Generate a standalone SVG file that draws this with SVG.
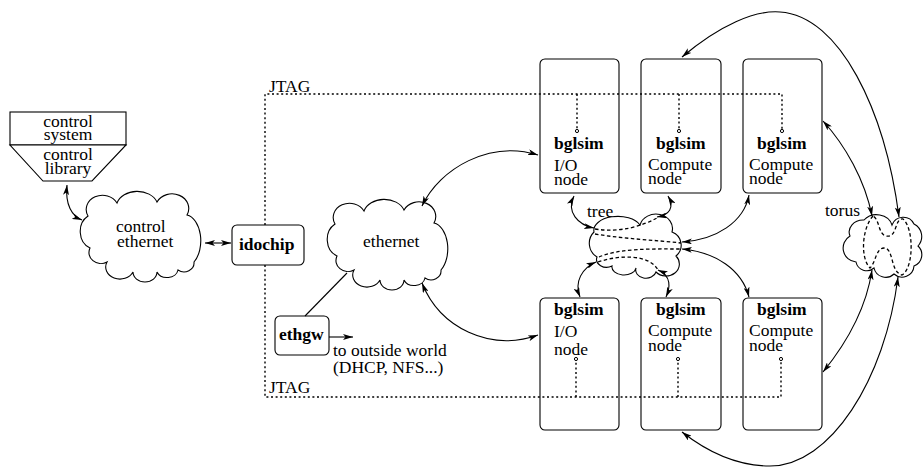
<svg xmlns="http://www.w3.org/2000/svg" width="923" height="474" viewBox="0 0 923 474">
  <style>
    .shape { fill: #fff; stroke: #000; stroke-width: 1.1; }
    .box { fill: none; stroke: #000; stroke-width: 1.1; }
    .line { fill: none; stroke: #000; stroke-width: 1.1; }
    .arrow2 { fill: none; stroke: #000; stroke-width: 1.1; marker-start: url(#ah); marker-end: url(#ah); }
    .arrow1 { fill: none; stroke: #000; stroke-width: 1.1; marker-end: url(#ah); }
    .dot { fill: none; stroke: #000; stroke-width: 1.4; stroke-dasharray: 2 2.6; }
    .inner { fill: none; stroke: #000; stroke-width: 1.3; stroke-dasharray: 3.5 2.5; }
    .pin { fill: #fff; stroke: #000; stroke-width: 1; }
    text { font-family: "Liberation Serif", "Times New Roman", serif; font-size: 17.5px; fill: #000; }
    .b { font-weight: bold; }
    .m { text-anchor: middle; }
  </style>
  <defs>
    <marker id="ah" viewBox="0 0 10 6" refX="10" refY="3" markerWidth="10" markerHeight="6" markerUnits="userSpaceOnUse" orient="auto-start-reverse">
      <path d="M0,0 L10,3 L0,6 L2.5,3 z" fill="#000"/>
    </marker>
    <path id="cloud" d="M88,216 A16,14 0 0 1 117,203 A21,16 0 0 1 157,202 A16,14 0 0 1 187,215 A16,26 0 0 1 194,262 A10,9 0 0 1 178,270 A11,9 0 0 1 157,272 A12,10 0 0 1 133,272 A13,11 0 0 1 107,262 A12,11 0 0 1 90,248 A16,18 0 0 1 88,216 Z"/>
  </defs>

  <rect width="923" height="474" fill="#fff"/>

  <!-- JTAG scan chain and per-node taps -->
  <g id="jtag">
    <path class="dot" d="M265,225 V94 H782 V131"/>
    <path class="dot" d="M577,94 V131 M679,94 V131"/>
    <path class="dot" d="M265,265 V397 H781 V359"/>
    <path class="dot" d="M576,397 V359 M678,397 V359"/>
    <circle class="pin" cx="577" cy="131" r="1.6"/>
    <circle class="pin" cx="679" cy="131" r="1.6"/>
    <circle class="pin" cx="782" cy="131" r="1.6"/>
    <circle class="pin" cx="576" cy="359" r="1.6"/>
    <circle class="pin" cx="678" cy="359" r="1.6"/>
    <circle class="pin" cx="781" cy="359" r="1.6"/>
    <text x="269" y="92">JTAG</text>
    <text x="269" y="393">JTAG</text>
  </g>

  <g id="control-system">
    <rect class="shape" x="10" y="112" width="116" height="33"/>
    <path class="shape" d="M10,145 H126 L92,181 H43 Z"/>
    <text class="m" x="68" y="127">control</text>
    <text class="m" x="68" y="140">system</text>
    <text class="m" x="68" y="160">control</text>
    <text class="m" x="68" y="174">library</text>
  </g>

  <g id="control-ethernet">
    <use href="#cloud" class="shape"/>
    <text x="116" y="232">control</text>
    <text x="117" y="247">ethernet</text>
  </g>

  <g id="idochip">
    <rect class="shape" x="232" y="225" width="72" height="40" rx="5"/>
    <text class="b" x="239" y="250">idochip</text>
  </g>

  <g id="ethernet">
    <use href="#cloud" class="shape" transform="translate(247,8)"/>
    <text x="363" y="247">ethernet</text>
  </g>

  <g id="ethgw">
    <rect class="shape" x="275" y="316" width="54" height="39" rx="5"/>
    <text class="b" x="279" y="340">ethgw</text>
    <text x="333" y="356">to outside world</text>
    <text x="333" y="373">(DHCP, NFS...)</text>
  </g>

  <g id="io-node-top">
    <rect class="box" x="540" y="59" width="79" height="134" rx="5"/>
    <text class="b" x="554" y="149">bglsim</text>
    <text x="554" y="171">I/O</text>
    <text x="554" y="185">node</text>
  </g>
  <g id="compute-node-top-1">
    <rect class="box" x="641" y="59" width="80" height="134" rx="5"/>
    <text class="b" x="656" y="149">bglsim</text>
    <text x="648" y="170">Compute</text>
    <text x="648" y="184">node</text>
  </g>
  <g id="compute-node-top-2">
    <rect class="box" x="743" y="59" width="79" height="134" rx="5"/>
    <text class="b" x="757" y="149">bglsim</text>
    <text x="749" y="170">Compute</text>
    <text x="749" y="184">node</text>
  </g>

  <g id="io-node-bottom">
    <rect class="box" x="540" y="298" width="79" height="132" rx="5"/>
    <text class="b" x="554" y="315">bglsim</text>
    <text x="554" y="337">I/O</text>
    <text x="554" y="355">node</text>
  </g>
  <g id="compute-node-bottom-1">
    <rect class="box" x="641" y="298" width="80" height="132" rx="5"/>
    <text class="b" x="656" y="315">bglsim</text>
    <text x="648" y="336">Compute</text>
    <text x="648" y="351">node</text>
  </g>
  <g id="compute-node-bottom-2">
    <rect class="box" x="743" y="298" width="79" height="132" rx="5"/>
    <text class="b" x="757" y="315">bglsim</text>
    <text x="749" y="336">Compute</text>
    <text x="749" y="351">node</text>
  </g>

  <g id="tree">
    <path class="shape" d="M594,232 A24,14 0 0 1 640,225 A16,14 0 0 1 672,232 A14,14 0 0 1 676,256 A10,9 0 0 1 656,272 A10,8 0 0 1 636,268 A12,8 0 0 1 612,266 A10,8 0 0 1 597,257 A16,16 0 0 1 594,232 Z"/>
    <path class="inner" d="M595,229 C620,233 642,226 657,218"/>
    <path class="inner" d="M595,234 C625,239 655,240 681,243"/>
    <path class="inner" d="M599,257 C620,248 652,249 681,249"/>
    <path class="inner" d="M598,262 C622,254 650,255 658,270"/>
    <text x="587" y="217">tree</text>
  </g>

  <g id="torus">
    <path class="shape" d="M850,236 A14,12 0 0 1 864,220 A16,14 0 0 1 892,225 A12,12 0 0 1 914,224 A14,14 0 0 1 918,246 A12,12 0 0 1 914,266 A12,12 0 0 1 894,274 A12,12 0 0 1 874,268 A11,11 0 0 1 856,262 A14,14 0 0 1 850,236 Z"/>
    <path class="inner" d="M873,216 C862,228 860,258 870,268 C876,262 876,248 884,248 C894,248 890,272 902,275 C914,268 914,228 903,219 C894,218 898,238 886,236 C878,234 880,220 873,216 Z"/>
    <text x="860" y="216" style="text-anchor:end">torus</text>
  </g>

  <g id="connectors">
    <path class="arrow2" d="M67,185 C65,205 72,216 82,220"/>
    <path class="arrow2" d="M205,243 L231,243"/>
    <path class="line" d="M305,316 L347,273"/>
    <path class="arrow1" d="M329,337 L353,337"/>
    <path class="arrow2" d="M422,206 C440,168 490,140 538,155"/>
    <path class="arrow2" d="M422,283 C440,328 490,352 538,335"/>
    <path class="arrow2" d="M574,196 C566,212 578,225 594,228"/>
    <path class="arrow2" d="M668,196 C675,208 669,215 657,217"/>
    <path class="arrow2" d="M749,195 C744,222 716,240 682,242"/>
    <path class="arrow2" d="M682,249 C716,252 742,270 749,297"/>
    <path class="arrow2" d="M596,262 C582,268 574,282 580,297"/>
    <path class="arrow2" d="M658,270 C672,276 670,288 666,297"/>
    <path class="arrow2" d="M823,121 C845,145 865,180 872,216"/>
    <path class="arrow2" d="M682,57 C720,25 755,10 780,12 C840,16 885,110 899,217"/>
    <path class="arrow2" d="M872,270 C866,310 845,345 823,372"/>
    <path class="arrow2" d="M898,277 C885,380 830,466 770,466 C735,466 705,450 682,432"/>
  </g>
</svg>
